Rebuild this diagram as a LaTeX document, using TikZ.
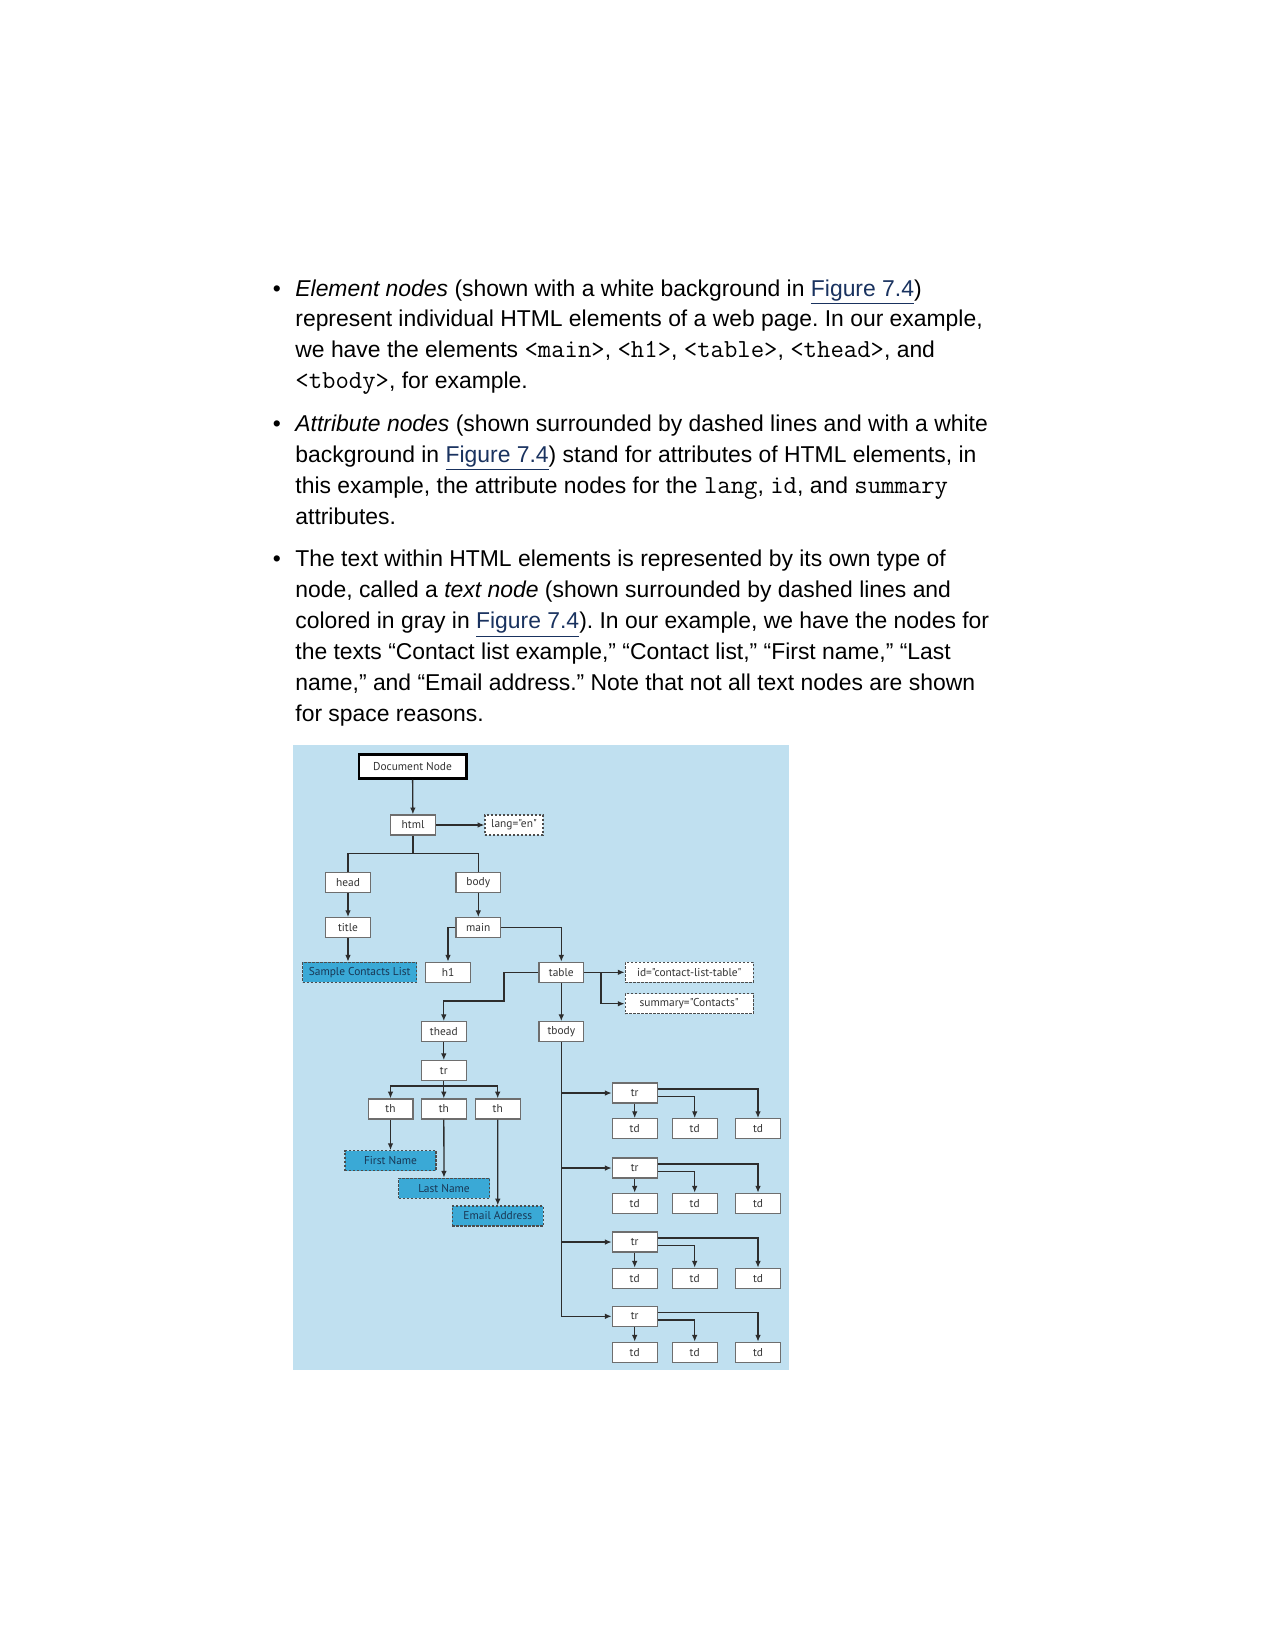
\documentclass[tikz,border=0pt]{standalone}
\usepackage{fontspec}
\setmainfont{Liberation Sans}
\newfontfamily\diafont{PT Sans}
\usetikzlibrary{arrows.meta}
\definecolor{panel}{RGB}{192,224,240}
\definecolor{textfill}{RGB}{58,169,214}
\definecolor{textink}{RGB}{25,55,85}
\definecolor{linkblue}{RGB}{25,50,95}
\definecolor{boxline}{RGB}{110,110,110}
\definecolor{wire}{RGB}{45,45,45}
\newcommand{\figref}{\textcolor{linkblue}{\underline{Figure 7.4}}}
\newcommand{\code}[1]{{\fontsize{13}{14}\selectfont\ttfamily #1}}
\frenchspacing
\begin{document}
\begin{tikzpicture}[x=0.5pt,y=-0.5pt,
    prose/.style={anchor=base west,inner sep=0pt,font=\fontsize{11.45}{14}\selectfont},
    bullet/.style={anchor=base,inner sep=0pt,font=\fontsize{11.45}{14}\selectfont},
    elem/.style={draw=boxline,fill=white,line width=0.6pt,minimum width=22.4pt,
      minimum height=10pt,inner sep=0pt,font=\diafont\fontsize{5.7}{6}\selectfont,text=black!80},
    docnode/.style={elem,draw=black,line width=1.4pt,minimum width=53.6pt,minimum height=11.8pt},
    attr/.style={elem,draw=black!70,dash pattern=on 1.2pt off 0.8pt},
    textnode/.style={attr,fill=textfill,text=textink,minimum width=45.5pt},
    wire/.style={draw=wire,line width=0.65pt}]
  \useasboundingbox (0,0) rectangle (1275,1649);
  \draw
    (277,296) node[bullet] (b1){•}
    (295,296) node[prose] (l1){\textit{Element nodes} (shown with a white background in \figref)}
    (295,326.9) node[prose] (l2){represent individual HTML elements of a web page. In our example,}
    (295,357.8) node[prose] (l3){we have the elements \code{<main>}, \code{<h1>}, \code{<table>}, \code{<thead>}, and}
    (295,388.7) node[prose] (l4){\code{<tbody>}, for example.}
    (277,431.3) node[bullet] (b2){•}
    (295,431.3) node[prose] (l5){\textit{Attribute nodes} (shown surrounded by dashed lines and with a white}
    (295,462.2) node[prose] (l6){background in \figref) stand for attributes of HTML elements, in}
    (295,493.1) node[prose] (l7){this example, the attribute nodes for the \code{lang}, \code{id}, and \code{summary}}
    (295,524) node[prose] (l8){attributes.}
    (277,566.6) node[bullet] (b3){•}
    (295,566.6) node[prose] (l9){The text within HTML elements is represented by its own type of}
    (295,597.5) node[prose] (l10){node, called a \textit{text node} (shown surrounded by dashed lines and}
    (295,628.4) node[prose] (l11){colored in gray in \figref). In our example, we have the nodes for}
    (295,659.3) node[prose] (l12){the texts “Contact list example,” “Contact list,” “First name,” “Last}
    (295,690.2) node[prose] (l13){name,” and “Email address.” Note that not all text nodes are shown}
    (295,721.1) node[prose] (l14){for space reasons.};
  \fill[panel] (293.3,745) rectangle (789.3,1370);
  \draw
    (412.5,766.5) node[docnode] (doc){Document Node}
    (413,825) node[elem] (html){html}
    (514,825) node[attr,minimum width=29pt] (lang){lang="en"}
    (348,882.7) node[elem] (head){head}
    (478.3,882.7) node[elem] (body){body}
    (348,927.7) node[elem] (title){title}
    (478.3,927.7) node[elem] (main){main}
    (359.7,972.3) node[textnode,minimum width=57pt] (scl){Sample Contacts List}
    (448,972.3) node[elem] (h1){h1}
    (561.3,972.3) node[elem] (table){table}
    (689.2,972.3) node[attr,minimum width=64pt] (id){id="contact-list-table"}
    (689.2,1003.7) node[attr,minimum width=64pt] (summary){summary="Contacts"}
    (443.8,1031.7) node[elem] (thead){thead}
    (561.3,1031.7) node[elem] (tbody){tbody}
    (443.8,1070.7) node[elem] (trh){tr}
    (390.5,1109) node[elem] (th1){th}
    (443.8,1109) node[elem] (th2){th}
    (497.7,1109) node[elem] (th3){th}
    (390.5,1160.7) node[textnode] (first){First Name}
    (444,1188.3) node[textnode] (last){Last Name}
    (497.8,1216) node[textnode] (email){Email Address}
    (634.7,1093) node[elem] (tr1){tr}
    (634.7,1128.7) node[elem] (td11){td}
    (694.7,1128.7) node[elem] (td12){td}
    (758,1128.7) node[elem] (td13){td}
    (634.7,1168) node[elem] (tr2){tr}
    (634.7,1203.3) node[elem] (td21){td}
    (694.7,1203.3) node[elem] (td22){td}
    (758,1203.3) node[elem] (td23){td}
    (634.7,1242) node[elem] (tr3){tr}
    (634.7,1278.3) node[elem] (td31){td}
    (694.7,1278.3) node[elem] (td32){td}
    (758,1278.3) node[elem] (td33){td}
    (634.7,1316.3) node[elem] (tr4){tr}
    (634.7,1352.3) node[elem] (td41){td}
    (694.7,1352.3) node[elem] (td42){td}
    (758,1352.3) node[elem] (td43){td};
  \coordinate (hsplit) at (413,853.3);
  \coordinate (tsplit) at (601,972.3);
  \coordinate (tbend) at (504,1001);
  \coordinate (trsplit) at (443.8,1086);
  \begin{scope}[wire]
    \draw (html) -- (hsplit);
    \draw (hsplit) -| (head);
    \draw (hsplit) -| (body);
    \draw (trh) -- (trsplit);
  \end{scope}
  \begin{scope}[wire,-{Latex[length=3.4pt,width=2.8pt]}]
    \draw (doc) to (html);
    \draw (html) to (lang);
    \draw (head) to (title);
    \draw (title) to (title |- scl.north);
    \draw (body) to (main);
    \draw (main) -| (h1);
    \draw (main) -| (table);
    \draw (table) to (id);
    \draw (tsplit) |- (summary);
    \draw (table) -| (tbend) -| (thead);
    \draw (table) to (tbody);
    \draw (thead) to (trh);
    \draw (trsplit) -| (th1);
    \draw (trsplit) to (th2);
    \draw (trsplit) -| (th3);
    \draw (th1) to (first);
    \draw (th2) to (last);
    \draw (th3) to (email);
    \draw (tbody) |- (tr1);
    \draw (tbody) |- (tr2);
    \draw (tbody) |- (tr3);
    \draw (tbody) |- (tr4);
    \draw (tr1) to (td11);
    \draw ([yshift=-1.8pt]tr1.east) -| (td12);
    \draw ([yshift=2pt]tr1.east) -| (td13);
    \draw (tr2) to (td21);
    \draw ([yshift=-1.8pt]tr2.east) -| (td22);
    \draw ([yshift=2pt]tr2.east) -| (td23);
    \draw (tr3) to (td31);
    \draw ([yshift=-1.8pt]tr3.east) -| (td32);
    \draw ([yshift=2pt]tr3.east) -| (td33);
    \draw (tr4) to (td41);
    \draw ([yshift=-1.8pt]tr4.east) -| (td42);
    \draw ([yshift=2pt]tr4.east) -| (td43);
  \end{scope}
\end{tikzpicture}
\end{document}
